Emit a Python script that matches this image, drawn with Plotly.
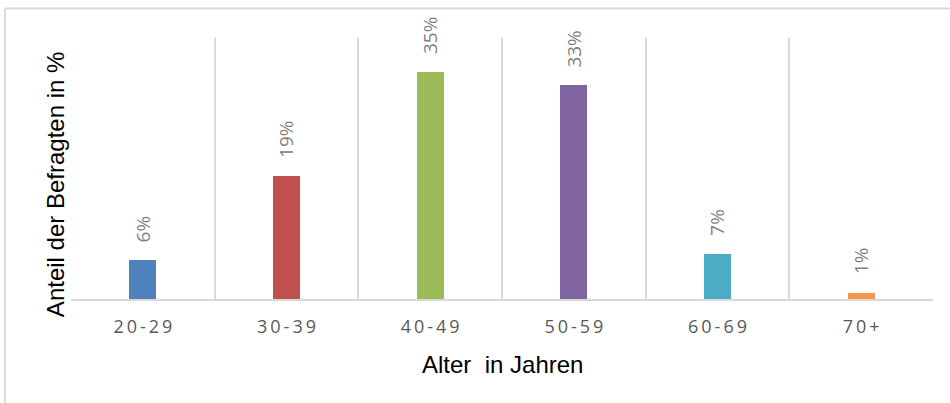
import plotly.graph_objects as go

# Altersverteilung der Befragten
age_groups = ["20-29", "30-39", "40-49", "50-59", "60-69", "70+"]
shares = [6, 19, 35, 33, 7, 1]
bar_colors = ["#4F81BD", "#C0504D", "#9BBB59", "#8064A2", "#4BACC6", "#F79646"]
# tick text with thin spaces for wider letter spacing
tick_text = ["\u2009".join(g) for g in age_groups]

GRID = "#d9d9d9"
TITLE_FONT = dict(family="Liberation Sans, Arial", size=24, color="black")

fig = go.Figure()
fig.add_trace(go.Bar(
    x=age_groups,
    y=shares,
    marker=dict(color=bar_colors, line=dict(width=0)),
    width=0.19,
    showlegend=False,
    hoverinfo="skip",
))

# value labels above the bars, rotated
for g, v in zip(age_groups, shares):
    fig.add_annotation(
        x=g, y=v, xref="x", yref="y",
        text=f"{v}%", textangle=-90, showarrow=False,
        xanchor="center", yanchor="bottom", yshift=16,
        font=dict(family="Open Sans", size=19, color="#808080"),
    )

# axis titles
fig.add_annotation(
    x=0.5, y=-0.25, xref="paper", yref="paper",
    text="Alter \u00a0in Jahren", showarrow=False,
    xanchor="center", yanchor="middle", font=TITLE_FONT,
)
fig.add_annotation(
    x=-0.0186, y=0.44, xref="paper", yref="paper",
    text="Anteil der Befragten in %", textangle=-90, showarrow=False,
    xanchor="center", yanchor="middle", font=TITLE_FONT,
)

fig.update_layout(
    width=950, height=403,
    margin=dict(l=71, r=17, t=38, b=104),
    paper_bgcolor="white", plot_bgcolor="white",
    bargap=0,
    xaxis=dict(
        type="category",
        tickmode="array", tickvals=age_groups, ticktext=tick_text,
        tickson="boundaries", ticks="", ticklen=0,
        ticklabelstandoff=10,
        showgrid=True, gridcolor=GRID, gridwidth=2,
        showline=True, linecolor=GRID, linewidth=2,
        tickfont=dict(family="Open Sans", size=18, color="#595959"),
        range=[-0.5, 5.5],
    ),
    yaxis=dict(
        range=[0, 40.3], showgrid=False, zeroline=False,
        showticklabels=False, showline=False, ticks="",
    ),
)

# outer chart frame (top and left edges visible in the page)
fig.add_shape(type="line", xref="paper", yref="paper",
              x0=-0.0766, x1=1.1, y0=1.113, y1=1.113,
              line=dict(color=GRID, width=2))
fig.add_shape(type="line", xref="paper", yref="paper",
              x0=-0.0766, x1=-0.0766, y0=1.113, y1=-0.5,
              line=dict(color=GRID, width=2))

fig.write_html("out.html")
